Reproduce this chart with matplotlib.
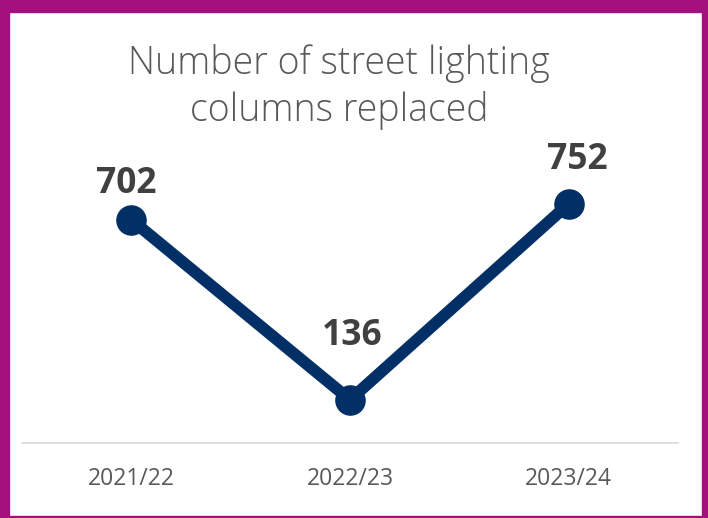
import matplotlib.pyplot as plt
from matplotlib.patches import Rectangle

years = ['2021/22', '2022/23', '2023/24']
columns = [702, 136, 752]

W, H = 708, 518
plt.rcParams['font.family'] = ['Open Sans', 'DejaVu Sans']
fig = plt.figure(figsize=(W / 100, H / 100), dpi=100)

# magenta frame
frame = '#A3117F'
for x, y, w, h in [(0, 0, 9, H), (0, H - 12, W, 12), (W - 6, 0, 6, H), (0, 0, W, 2)]:
    fig.patches.append(Rectangle((x / W, y / H), w / W, h / H, transform=fig.transFigure,
                                 color=frame, zorder=0))

ax = fig.add_axes([22 / W, 75 / H, 656 / W, 254.4 / H])
ax.plot(range(len(years)), columns, color='#012F66', linewidth=8.5,
        marker='o', markersize=21, solid_capstyle='round', clip_on=False)

# label offsets in pixels (dx, dy)
offsets = [(-5, 36), (2, 64), (9, 44)]
for i, v in enumerate(columns):
    ax.annotate(str(v), (i, v), xytext=offsets[i], textcoords='offset pixels',
                ha='center', va='center', fontsize=25.5, fontweight='bold', color='#404040')

ax.set_xlim(-0.5, 2.5)
ax.set_ylim(0, 800)
ax.set_xticks(range(len(years)))
ax.set_xticklabels(years, fontsize=16.5, color='#595959')
ax.tick_params(axis='x', length=0, pad=17)
ax.set_yticks([])
for s in ['top', 'left', 'right']:
    ax.spines[s].set_visible(False)
ax.spines['bottom'].set_color('#D9D9D9')
ax.spines['bottom'].set_linewidth(1.2)

fig.text(339 / W, 1 - 87 / H, 'Number of street lighting\ncolumns replaced', ha='center', va='center',
         fontsize=27, fontweight='light', color='#595959', linespacing=1.25)

fig.savefig('out.png', dpi=100)
